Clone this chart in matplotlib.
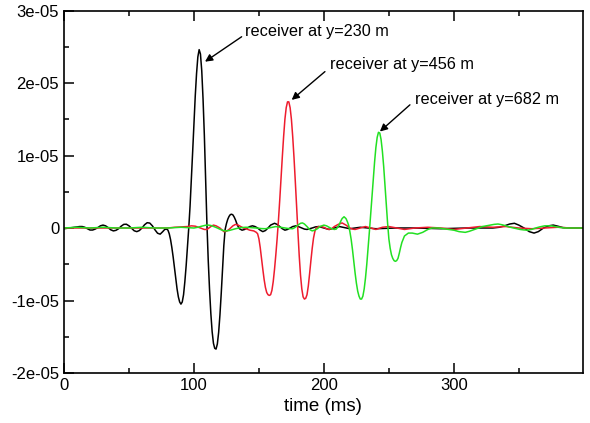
import matplotlib
matplotlib.use("Agg")
import matplotlib.pyplot as plt
import numpy as np

plt.rcParams['font.family'] = ['Liberation Sans', 'DejaVu Sans']

SCALE = 1e-5

# receiver at y=230 m (black)
t_230 = [0, 2, 4, 6, 8, 10, 12, 14, 16, 18, 20, 22, 24, 26, 28, 30, 32, 34, 36, 38, 40, 42, 44, 46, 48,
         50, 52, 54, 56, 58, 60, 62, 64, 66, 68, 70, 72, 74, 76, 77.5, 79,
         80, 81, 82, 83, 84, 85, 86, 87, 88, 89, 90, 91, 92, 93, 94, 95, 96,
         97, 98, 99, 100, 101, 102, 103, 104, 105, 106, 107, 108, 109, 110,
         111, 112, 113, 114, 115, 116, 117, 118, 119, 120, 121, 122, 123, 124,
         125, 126, 127, 128, 129, 130, 131, 132, 133, 134, 135, 137, 139, 141, 143, 145, 147, 149,
         151, 153, 155, 157, 159, 162, 164, 166, 168, 170, 172, 174, 176, 178.5, 181, 183, 185, 187,
         189, 191, 193.5, 196, 200, 204, 208, 212, 216, 220, 224, 228, 234, 240, 255, 270, 290,
         310, 330, 335, 339, 343, 346.6, 350, 354, 358, 361.7, 365, 369, 373, 376.5, 380, 384, 390, 399]
v_230 = [-0.01, -0.005, 0.0, 0.005, 0.01, 0.015, 0.02, 0.02, 0.01, -0.01, -0.028, -0.028, -0.015, 0.005, 0.03,
         0.04, 0.03, 0.005, -0.025, -0.04, -0.032, -0.01, 0.025, 0.05, 0.052,
         0.03, -0.005, -0.038, -0.05, -0.035, 0.0, 0.045, 0.073, 0.068, 0.03, -0.025, -0.072, -0.085, -0.05, -0.02, -0.015,
         -0.03, -0.08, -0.16, -0.27, -0.40, -0.55, -0.70, -0.84, -0.95, -1.02, -1.05, -1.02, -0.92, -0.74, -0.52, -0.27, 0.0,
         0.30, 0.66, 1.05, 1.45, 1.82, 2.13, 2.36, 2.46, 2.40, 2.17, 1.78, 1.28, 0.68, 0.05,
         -0.45, -0.85, -1.18, -1.43, -1.59, -1.66, -1.67, -1.60, -1.44, -1.20, -0.90, -0.57, -0.24, -0.02,
         0.06, 0.12, 0.16, 0.185, 0.19, 0.18, 0.15, 0.11, 0.06, 0.02, -0.01, -0.03, -0.02, 0.0, 0.02, 0.03, 0.02, 0.0,
         -0.03, -0.05, -0.035, 0.0, 0.04, 0.065, 0.05, 0.02, -0.01, -0.03, -0.02, 0.0, 0.02, 0.03, 0.015, 0.0, -0.015, -0.02,
         -0.01, 0.0, 0.015, 0.02, 0.0, -0.02, 0.0, 0.02, 0.005, -0.01, 0.0, 0.01, 0.0, -0.01, 0.0, 0.0, -0.01,
         0.0, 0.0, 0.01, 0.03, 0.055, 0.065, 0.04, 0.0, -0.05, -0.07, -0.05, 0.0, 0.03, 0.04, 0.025, 0.005, 0.0, 0.0]

# receiver at y=456 m (red)
t_456 = [0, 20, 40, 60, 80, 85, 90, 95, 98, 101, 105, 108, 110, 113, 115, 117, 120, 123, 125, 127,
         130, 132, 134, 136, 138, 140, 143, 146, 148,
         149, 150, 151, 152, 153, 154, 155, 156, 157, 158, 159, 160, 161, 162, 163, 164, 165,
         166, 167, 168, 169, 170, 171, 172, 173, 174, 175, 176, 177, 178, 179, 180,
         181, 182, 183, 184, 185, 186, 187, 188, 189, 190, 191, 192, 193, 194, 196, 198, 200,
         202, 204, 206, 208, 211, 214, 217, 220, 222, 224, 226, 228, 232, 236, 240, 245, 250, 256, 262, 270, 280,
         290, 300, 310, 320, 330, 340, 350, 360, 370, 380, 390, 399]
v_456 = [0.0, 0.0, 0.0, 0.0, 0.0, 0.01, 0.015, 0.02, 0.03, 0.025, 0.0, -0.02, -0.02, 0.02, 0.04, 0.03, 0.0, -0.05, -0.045, -0.02,
         0.03, 0.05, 0.04, 0.02, 0.0, -0.01, -0.03, -0.04, -0.06,
         -0.08, -0.15, -0.27, -0.42, -0.57, -0.71, -0.82, -0.89, -0.92, -0.93, -0.92, -0.86, -0.74, -0.57, -0.37, -0.15, 0.10,
         0.38, 0.68, 0.98, 1.26, 1.50, 1.66, 1.74, 1.74, 1.66, 1.50, 1.26, 0.97, 0.64, 0.30, -0.05,
         -0.38, -0.65, -0.84, -0.95, -0.98, -0.97, -0.92, -0.80, -0.63, -0.45, -0.28, -0.14, -0.05, 0.0, 0.02, 0.02, 0.01,
         -0.01, -0.02, -0.01, 0.02, 0.05, 0.07, 0.04, 0.0, -0.015, -0.02, -0.01, 0.0, 0.02, 0.0, -0.02, 0.01, 0.02, 0.0, -0.02, 0.0, 0.01,
         0.0, -0.02, 0.0, 0.02, 0.01, 0.02, 0.0, -0.01, 0.0, 0.01, 0.0, 0.0]

# receiver at y=682 m (green)
t_682 = [0, 10, 20, 30, 40, 50, 60, 70, 80, 90, 100, 103, 106, 109, 111, 113, 116, 118, 121, 123, 125, 127,
         130, 132, 136, 140, 144, 148, 152, 155, 159, 163, 166, 170, 173, 176, 178, 180, 182, 183.5, 185, 187,
         189, 191, 193, 195, 197, 200, 202, 204, 206, 208, 209.5, 211, 212, 213, 214, 215.5, 217, 218, 219,
         220, 221, 222, 223, 224, 225, 226, 227, 228, 229, 230, 231, 232, 233, 234, 235,
         236, 237, 238, 239, 240, 241, 242, 243, 244, 245, 246, 247, 248, 249,
         250, 251, 252, 253, 254, 255, 256, 257, 258, 259, 260, 262, 265, 268, 272, 276, 280, 283,
         288, 292, 296, 300, 304, 308.8, 312, 316, 319, 322, 325, 328, 331, 334, 337, 340, 343, 346, 349,
         351, 354, 357, 360, 363, 366, 370, 375, 378, 381, 385, 390, 399]
v_682 = [0.0, 0.01, 0.0, 0.01, 0.0, 0.0, 0.01, 0.0, 0.0, 0.01, 0.0, 0.01, 0.025, 0.038, 0.04, 0.035, 0.015, 0.0,
         -0.025, -0.037, -0.04, -0.035,
         -0.02, -0.01, 0.005, 0.01, 0.005, 0.0, -0.008, -0.01, 0.005, 0.02, 0.012, 0.0, -0.008, -0.01, 0.01, 0.04,
         0.065, 0.07, 0.055, 0.02,
         -0.02, -0.04, -0.03, -0.01, 0.02, 0.04, 0.03, 0.01, -0.01, -0.02, -0.015, 0.02, 0.055, 0.095, 0.13, 0.155,
         0.13, 0.09, 0.04,
         -0.05, -0.16, -0.30, -0.46, -0.62, -0.76, -0.87, -0.94, -0.98, -0.98, -0.94, -0.84, -0.69, -0.50, -0.28, -0.05,
         0.19, 0.43, 0.67, 0.91, 1.11, 1.25, 1.32, 1.31, 1.22, 1.06, 0.85, 0.60, 0.33, 0.07,
         -0.15, -0.28, -0.37, -0.42, -0.45, -0.46, -0.45, -0.42, -0.35, -0.27, -0.20, -0.11, -0.07, -0.07, -0.085,
         -0.06, -0.02, 0.0,
         0.0, -0.01, -0.02, -0.03, -0.05, -0.06, -0.045, -0.02, 0.0, 0.02, 0.03, 0.04, 0.05, 0.055, 0.045, 0.03,
         0.012, 0.0, -0.012,
         -0.02, -0.027, -0.03, -0.018, 0.0, 0.015, 0.03, 0.03, 0.02, 0.01, 0.0, 0.0, 0.0]

y_ticks = [-2e-5, -1e-5, 0, 1e-5, 2e-5, 3e-5]
y_tick_labels = ["-2e-05", "-1e-05", "0", "1e-05", "2e-05", "3e-05"]
x_ticks = [0, 100, 200, 300]

fig = plt.figure(figsize=(5.9, 4.23), dpi=100)
ax = fig.add_axes([64 / 590, 50 / 423, 518.5 / 590, 362.5 / 423])

ax.plot(t_230, np.array(v_230) * SCALE, color="black", lw=1.1)
ax.plot(t_456, np.array(v_456) * SCALE, color="#ee1c2e", lw=1.1)
ax.plot(t_682, np.array(v_682) * SCALE, color="#22e022", lw=1.1)

ax.set_xlim(0, 399)
ax.set_ylim(-2e-5, 3e-5)
ax.set_xticks(x_ticks)
ax.set_xticks([50, 150, 250, 350], minor=True)
ax.set_yticks(y_ticks)
ax.set_yticklabels(y_tick_labels)
ax.set_yticks([-1.5e-5, -0.5e-5, 0.5e-5, 1.5e-5, 2.5e-5], minor=True)
ax.tick_params(which="both", direction="in", top=True, right=False, width=1.1, labelsize=12)
ax.tick_params(which="major", length=7)
ax.tick_params(which="minor", length=3.6)
for sp in ax.spines.values():
    sp.set_linewidth(1.2)

ax.set_xlabel("time (ms)", fontsize=13.5, labelpad=4)

arrow = dict(arrowstyle="-|>", color="black", lw=1.0, mutation_scale=11, shrinkA=0, shrinkB=0)
notes = [("receiver at y=230 m", (108.5, 2.294e-5), (136.7, 2.638e-5), (139.2, 2.707e-5)),
         ("receiver at y=456 m", (175.2, 1.767e-5), (200.8, 2.157e-5), (204.6, 2.249e-5)),
         ("receiver at y=682 m", (243.1, 1.331e-5), (266.2, 1.699e-5), (270.0, 1.768e-5))]
for label, head, tail, pos in notes:
    ax.annotate("", xy=head, xytext=tail, arrowprops=arrow)
    ax.text(pos[0], pos[1], label, ha="left", va="center", fontsize=11.7)

fig.savefig("out.png", dpi=100)
